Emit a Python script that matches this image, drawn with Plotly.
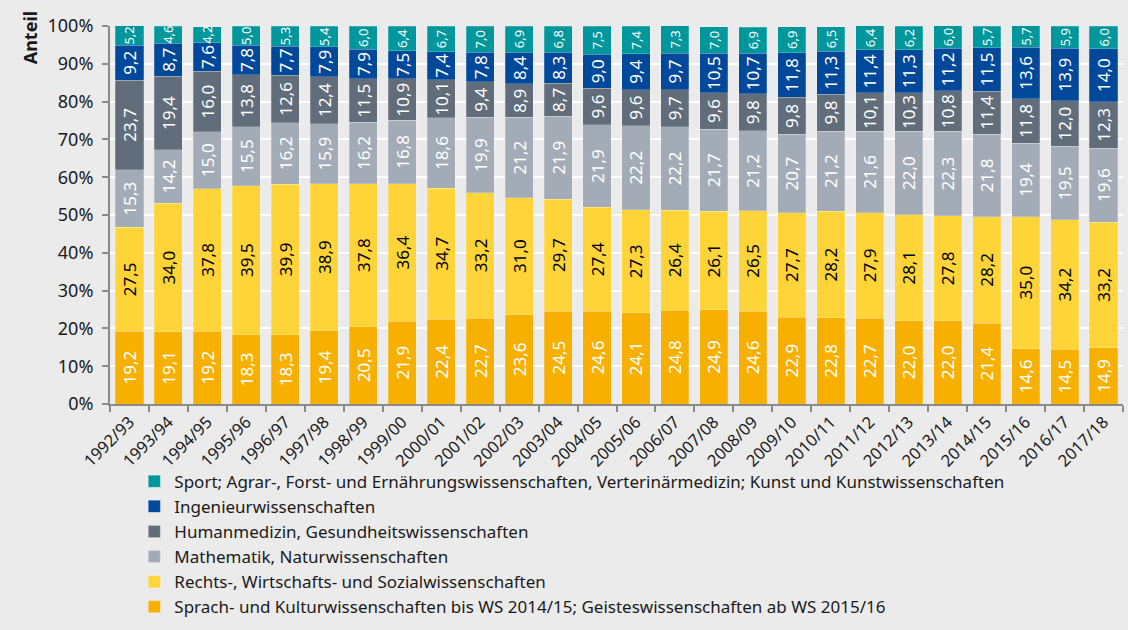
import plotly.graph_objects as go

categories = ["1992/93", "1993/94", "1994/95", "1995/96", "1996/97", "1997/98", "1998/99",
              "1999/00", "2000/01", "2001/02", "2002/03", "2003/04", "2004/05", "2005/06",
              "2006/07", "2007/08", "2008/09", "2009/10", "2010/11", "2011/12", "2012/13",
              "2013/14", "2014/15", "2015/16", "2016/17", "2017/18"]

sprach = [19.2, 19.1, 19.2, 18.3, 18.3, 19.4, 20.5, 21.9, 22.4, 22.7, 23.6, 24.5, 24.6,
          24.1, 24.8, 24.9, 24.6, 22.9, 22.8, 22.7, 22.0, 22.0, 21.4, 14.6, 14.5, 14.9]
rechts = [27.5, 34.0, 37.8, 39.5, 39.9, 38.9, 37.8, 36.4, 34.7, 33.2, 31.0, 29.7, 27.4,
          27.3, 26.4, 26.1, 26.5, 27.7, 28.2, 27.9, 28.1, 27.8, 28.2, 35.0, 34.2, 33.2]
mathe = [15.3, 14.2, 15.0, 15.5, 16.2, 15.9, 16.2, 16.8, 18.6, 19.9, 21.2, 21.9, 21.9,
         22.2, 22.2, 21.7, 21.2, 20.7, 21.2, 21.6, 22.0, 22.3, 21.8, 19.4, 19.5, 19.6]
human = [23.7, 19.4, 16.0, 13.8, 12.6, 12.4, 11.5, 10.9, 10.1, 9.4, 8.9, 8.7, 9.6,
         9.6, 9.7, 9.6, 9.8, 9.8, 9.8, 10.1, 10.3, 10.8, 11.4, 11.8, 12.0, 12.3]
ingenieur = [9.2, 8.7, 7.6, 7.8, 7.7, 7.9, 7.9, 7.5, 7.4, 7.8, 8.4, 8.3, 9.0,
             9.4, 9.7, 10.5, 10.7, 11.8, 11.3, 11.4, 11.3, 11.2, 11.5, 13.6, 13.9, 14.0]
sport = [5.2, 4.6, 4.2, 5.0, 5.3, 5.4, 6.0, 6.4, 6.7, 7.0, 6.9, 6.8, 7.5,
         7.4, 7.3, 7.0, 6.9, 6.9, 6.5, 6.4, 6.2, 6.0, 5.7, 5.7, 5.9, 6.0]

series = [
    ("Sprach- und Kulturwissenschaften bis WS 2014/15; Geisteswissenschaften ab WS 2015/16", sprach, "#F7B000", "white", 17),
    ("Rechts-, Wirtschafts- und Sozialwissenschaften", rechts, "#FFD438", "black", 17),
    ("Mathematik, Naturwissenschaften", mathe, "#A3ACB6", "white", 17),
    ("Humanmedizin, Gesundheitswissenschaften", human, "#616D7A", "white", 17),
    ("Ingenieurwissenschaften", ingenieur, "#00489A", "white", 17),
    ("Sport; Agrar-, Forst- und Ernährungswissenschaften, Verterinärmedizin; Kunst und Kunstwissenschaften", sport, "#00979C", "white", 13),
]

FONT = "Noto Sans"

fig = go.Figure()
for name, vals, color, tcolor, tsize in series:
    fig.add_trace(go.Bar(
        x=categories, y=vals, name=name,
        marker=dict(color=color, line=dict(color="rgba(255,255,255,0.35)", width=0.6)),
        text=[f"{v:.1f}".replace(".", ",") for v in vals],
        textposition="inside", textangle=-90, insidetextanchor="middle",
        constraintext="none",
        textfont=dict(color=tcolor, size=tsize, family=FONT),
        hoverinfo="skip",
    ))

fig.update_layout(
    barmode="stack",
    bargap=0.28,
    width=1128, height=630,
    margin=dict(l=110, r=5, t=26, b=223),
    paper_bgcolor="#EBEBEB",
    plot_bgcolor="#EBEBEB",
    font=dict(family=FONT, size=16, color="#1a1a1a"),
    showlegend=True,
    legend=dict(
        orientation="v", traceorder="reversed",
        x=0.024, xanchor="left", y=-0.158, yanchor="top",
        font=dict(size=17, family=FONT, color="#1a1a1a"),
        bgcolor="rgba(0,0,0,0)",
        itemwidth=30, tracegroupgap=0,
    ),
    annotations=[dict(
        text="<b>Anteil</b>", textangle=-90, xref="paper", yref="paper",
        x=-0.079, y=0.97, xanchor="center", yanchor="middle", showarrow=False,
        font=dict(size=18, family=FONT, color="#1a1a1a"),
    )],
)

fig.update_yaxes(
    range=[0, 100], dtick=10, ticksuffix="%",
    showgrid=True, gridcolor="white", gridwidth=2,
    showline=True, linecolor="#8a8a8a", linewidth=2,
    ticks="outside", ticklen=6, tickcolor="#8a8a8a", tickwidth=2,
    ticklabelstandoff=5,
    tickfont=dict(size=18, family=FONT, color="#1a1a1a"),
    zeroline=False, automargin=False,
)
fig.update_xaxes(
    tickangle=-45,
    showline=True, linecolor="#8a8a8a", linewidth=2,
    ticks="outside", tickson="boundaries", ticklen=6, tickcolor="#8a8a8a", tickwidth=2,
    tickfont=dict(size=16.5, family=FONT, color="#1a1a1a"),
    showgrid=False, automargin=False,
)

fig.write_html("out.html", config={"displayModeBar": False},
               post_script="document.body.style.margin='0';")
